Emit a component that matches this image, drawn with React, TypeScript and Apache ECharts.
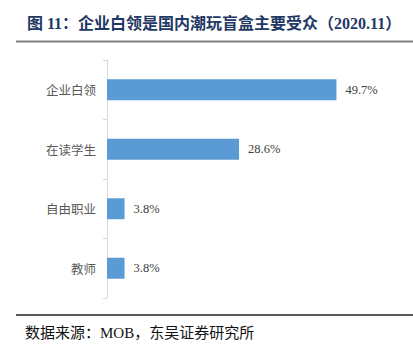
import React, { useEffect, useRef } from "react";
import * as echarts from "echarts";

const categories = ["企业白领", "在读学生", "自由职业", "教师"];
const values = [49.7, 28.6, 3.8, 3.8];
const titleText = "图 11：企业白领是国内潮玩盲盒主要受众（2020.11）";
const sourceText = "数据来源：MOB，东吴证券研究所";

export default function App() {
  const ref = useRef<HTMLDivElement>(null);
  useEffect(() => {
    document.body.style.margin = "0";
    const chart = echarts.init(ref.current!, null, { renderer: "svg" });
    chart.setOption({
      animation: false,
      backgroundColor: "#ffffff",
      grid: { left: 107, top: 60, bottom: 53, right: 29, containLabel: false },
      xAxis: {
        type: "value",
        min: 0,
        max: 60,
        show: false,
      },
      yAxis: {
        type: "category",
        data: categories,
        inverse: true,
        axisLine: { show: true, lineStyle: { color: "#d9d9d9", width: 1 } },
        axisTick: { show: true, length: 4, lineStyle: { color: "#d9d9d9" } },
        axisLabel: {
          margin: 11,
          fontSize: 12.5,
          color: "#595959",
          fontFamily: "Noto Sans CJK SC",
        },
        splitLine: { show: false },
      },
      series: [
        {
          type: "bar",
          data: values,
          barWidth: 21,
          itemStyle: { color: "#5b9bd5" },
          label: {
            show: true,
            position: "right",
            distance: 9,
            formatter: (p: any) => p.value.toFixed(1) + "%",
            fontSize: 12.5,
            color: "#404040",
            fontFamily: "Liberation Serif",
          },
        },
      ],
      graphic: [
        {
          type: "text",
          left: 27,
          top: 15,
          style: {
            text: titleText,
            fontSize: 16,
            fontWeight: "bold",
            fill: "#1f3864",
            fontFamily: "Liberation Serif, Noto Sans CJK SC",
          },
        },
        {
          type: "line",
          shape: { x1: 16, y1: 41.5, x2: 413, y2: 41.5 },
          style: { stroke: "#7f7f7f", lineWidth: 2 },
        },
        {
          type: "line",
          shape: { x1: 16, y1: 315, x2: 413, y2: 315 },
          style: { stroke: "#222222", lineWidth: 1.3 },
        },
        {
          type: "text",
          left: 25,
          top: 325,
          style: {
            text: sourceText,
            fontSize: 15,
            fill: "#111111",
            fontFamily: "Liberation Serif, Noto Sans CJK SC",
          },
        },
      ],
    });
    return () => chart.dispose();
  }, []);
  return (
    <div
      ref={ref}
      style={{ width: 413, height: 351, position: "absolute", left: 0, top: 0 }}
    />
  );
}
